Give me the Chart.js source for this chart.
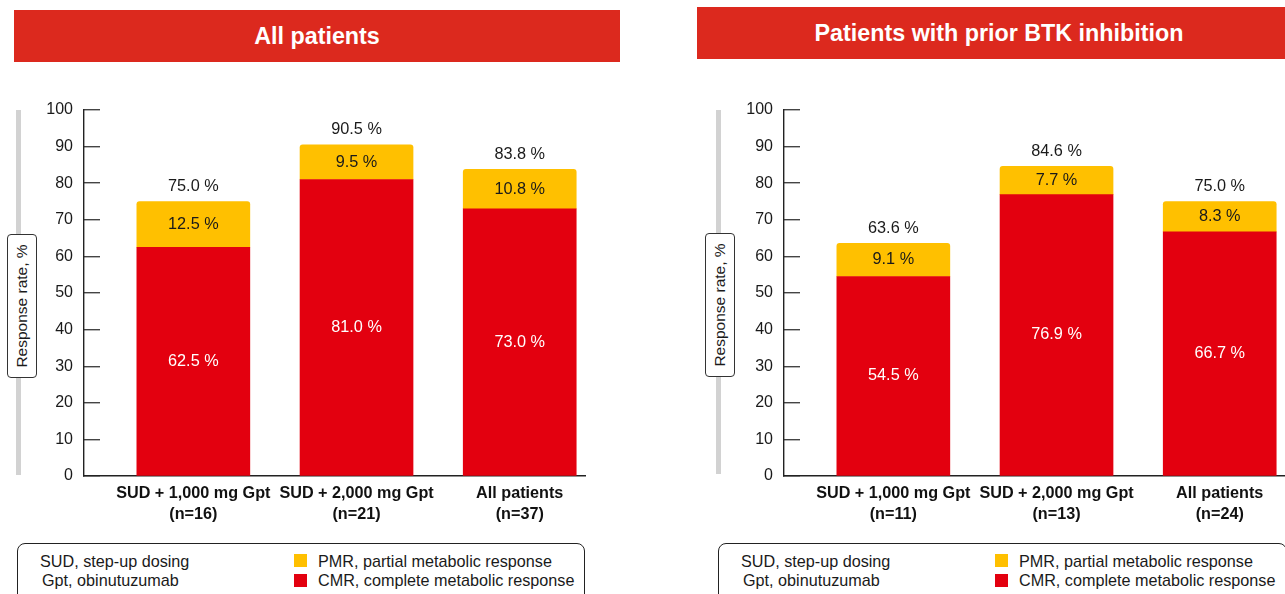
<!DOCTYPE html>
<html>
<head>
<meta charset="utf-8">
<title>Metabolic response rates</title>
<script src="https://cdn.jsdelivr.net/npm/chart.js@4.4.1/dist/chart.umd.min.js"></script>
<style>
  html, body { margin: 0; padding: 0; background: #ffffff; }
  body { width: 1285px; height: 594px; position: relative; overflow: hidden;
         font-family: "Liberation Sans", Arial, Helvetica, sans-serif; color: #1a1a1a; }
  .banner { position: absolute; background: #dc291e; color: #ffffff; font-weight: bold;
            font-size: 23.3px; display: flex; align-items: center; justify-content: center;
            box-sizing: border-box; }
  .rail { position: absolute; background: #d2d2d2; width: 5px; }
  .ytitle { position: absolute; border: 1px solid #333; border-radius: 4px; background: #fff;
            box-sizing: border-box; }
  .ytitle span { position: absolute; left: 50%; top: 50%; white-space: nowrap; font-size: 15.5px;
                 transform: translate(-50%, -50%) rotate(-90deg); }
  .legend { position: absolute; border: 1.3px solid #222; border-radius: 8px; box-sizing: border-box; }
  .legend .txt { position: absolute; font-size: 16.2px; line-height: 18px; white-space: nowrap; }
  .swatch { position: absolute; width: 13px; height: 13px; }
  canvas { position: absolute; }
</style>
</head>
<body>

<div class="banner" style="left:14px; top:10px; width:606px; height:52px;">All patients</div>
<div class="banner" style="left:697px; top:7px; width:588px; height:52px; padding-left:16px;">Patients with prior BTK inhibition</div>

<div class="rail" style="left:16px; top:110px; height:365px;"></div>
<div class="rail" style="left:716px; top:110px; height:364px;"></div>

<div class="ytitle" style="left:7px; top:234px; width:30px; height:144px;"><span>Response rate, %</span></div>
<div class="ytitle" style="left:705px; top:233px; width:30px; height:144px;"><span>Response rate, %</span></div>

<div style="position:absolute; left:0; top:70px; width:640px; height:470px;"><canvas id="chartAll"></canvas></div>
<div style="position:absolute; left:640px; top:70px; width:645px; height:470px;"><canvas id="chartBtk"></canvas></div>

<div class="legend" style="left:17px; right:700px; top:543px; height:64px;">
  <span class="txt" style="left:22px; top:8px;">SUD, step-up dosing</span>
  <span class="txt" style="left:24px; top:27px;">Gpt, obinutuzumab</span>
  <span class="swatch" style="left:276px; top:10px; background:#ffc000;"></span>
  <span class="swatch" style="left:276px; top:30px; background:#e3000f;"></span>
  <span class="txt" style="left:300px; top:8px;">PMR, partial metabolic response</span>
  <span class="txt" style="left:300px; top:27px;">CMR, complete metabolic response</span>
</div>
<div class="legend" style="left:718px; right:-2px; top:543px; height:64px;">
  <span class="txt" style="left:22px; top:8px;">SUD, step-up dosing</span>
  <span class="txt" style="left:24px; top:27px;">Gpt, obinutuzumab</span>
  <span class="swatch" style="left:276px; top:10px; background:#ffc000;"></span>
  <span class="swatch" style="left:276px; top:30px; background:#e3000f;"></span>
  <span class="txt" style="left:300px; top:8px;">PMR, partial metabolic response</span>
  <span class="txt" style="left:300px; top:27px;">CMR, complete metabolic response</span>
</div>

<script>
// Group names shown under each bar
const groupNames = ['SUD + 1,000 mg Gpt', 'SUD + 2,000 mg Gpt', 'All patients'];

// All patients: group sizes and response rates (%)
const allN = [16, 21, 37];
const allCmr = [62.5, 81.0, 73.0];
const allPmr = [12.5, 9.5, 10.8];
const allTotal = [75.0, 90.5, 83.8];

// Patients with prior BTK inhibition: group sizes and response rates (%)
const btkN = [11, 13, 24];
const btkCmr = [54.5, 76.9, 66.7];
const btkPmr = [9.1, 7.7, 8.3];
const btkTotal = [63.6, 84.6, 75.0];

// Y axis tick values
const yTicks = [0, 10, 20, 30, 40, 50, 60, 70, 80, 90, 100];

const FONT = '"Liberation Sans", Arial, Helvetica, sans-serif';
const RED = '#e3000f';
const YELLOW = '#ffc000';

// Writes each segment's value inside it and the overall rate above the stack
const valueLabels = {
  id: 'valueLabels',
  afterDatasetsDraw(chart, args, opts) {
    const ctx = chart.ctx;
    ctx.save();
    ctx.font = '16.3px ' + FONT;
    ctx.textAlign = 'center';
    ctx.textBaseline = 'middle';
    chart.data.datasets.forEach((ds, di) => {
      const meta = chart.getDatasetMeta(di);
      meta.data.forEach((bar, i) => {
        const v = ds.data[i].y;
        ctx.fillStyle = ds.labelColor;
        ctx.fillText(v.toFixed(1) + ' %', bar.x, (bar.y + bar.base) / 2);
      });
    });
    const topMeta = chart.getDatasetMeta(chart.data.datasets.length - 1);
    ctx.fillStyle = '#1a1a1a';
    topMeta.data.forEach((bar, i) => {
      ctx.fillText(opts.totals[i].toFixed(1) + ' %', bar.x, bar.y - 15);
    });
    ctx.restore();
  }
};

function makeChart(id, cmr, pmr, totals, counts, axisWidth, padRight) {
  const cmrPoints = cmr.map((v, i) => ({ x: i + 1, y: v }));
  const pmrPoints = pmr.map((v, i) => ({ x: i + 1, y: v }));
  return new Chart(document.getElementById(id), {
    type: 'bar',
    data: {
      datasets: [
        { label: 'CMR', data: cmrPoints, backgroundColor: RED, labelColor: '#ffffff',
          barThickness: 113, borderWidth: 0, borderRadius: 1, borderSkipped: 'bottom' },
        { label: 'PMR', data: pmrPoints, backgroundColor: YELLOW, labelColor: '#1a1a1a',
          barThickness: 113, borderWidth: 0, borderRadius: { topLeft: 3, topRight: 3 }, borderSkipped: 'bottom' }
      ]
    },
    options: {
      responsive: true,
      maintainAspectRatio: false,
      animation: false,
      layout: { padding: { top: 40, right: padRight, left: 0, bottom: 0 } },
      plugins: {
        legend: { display: false },
        tooltip: { enabled: false },
        valueLabels: { totals: totals }
      },
      scales: {
        x: {
          type: 'linear',
          stacked: true,
          min: 0.33,
          max: 3.40,
          offset: false,
          grid: { display: false, drawTicks: false },
          border: { display: true, color: '#222', width: 1.4 },
          afterBuildTicks(scale) {
            scale.ticks = groupNames.map((_, i) => ({ value: i + 1 }));
          },
          afterFit(scale) { scale.height = 64; },
          ticks: {
            autoSkip: false,
            maxRotation: 0,
            padding: 7,
            color: '#111',
            font: { family: FONT, size: 16.2, weight: 'bold', lineHeight: 1.3 },
            callback(value) {
              const i = Math.round(value) - 1;
              return [groupNames[i], '(n=' + counts[i] + ')'];
            }
          }
        },
        y: {
          stacked: true,
          min: 0,
          max: 100,
          afterBuildTicks(scale) {
            scale.ticks = yTicks.map(v => ({ value: v }));
          },
          afterFit(scale) { scale.width = axisWidth; },
          grid: { display: true, drawOnChartArea: false, drawTicks: true, tickLength: -16,
                  color: '#444', lineWidth: 1.4 },
          border: { display: true, color: '#222', width: 1.4 },
          ticks: {
            padding: 27,
            color: '#1a1a1a',
            font: { family: FONT, size: 16 }
          }
        }
      }
    },
    plugins: [valueLabels]
  });
}

makeChart('chartAll', allCmr, allPmr, allTotal, allN, 84, 55);
makeChart('chartBtk', btkCmr, btkPmr, btkTotal, btkN, 144, 0);
</script>
</body>
</html>
